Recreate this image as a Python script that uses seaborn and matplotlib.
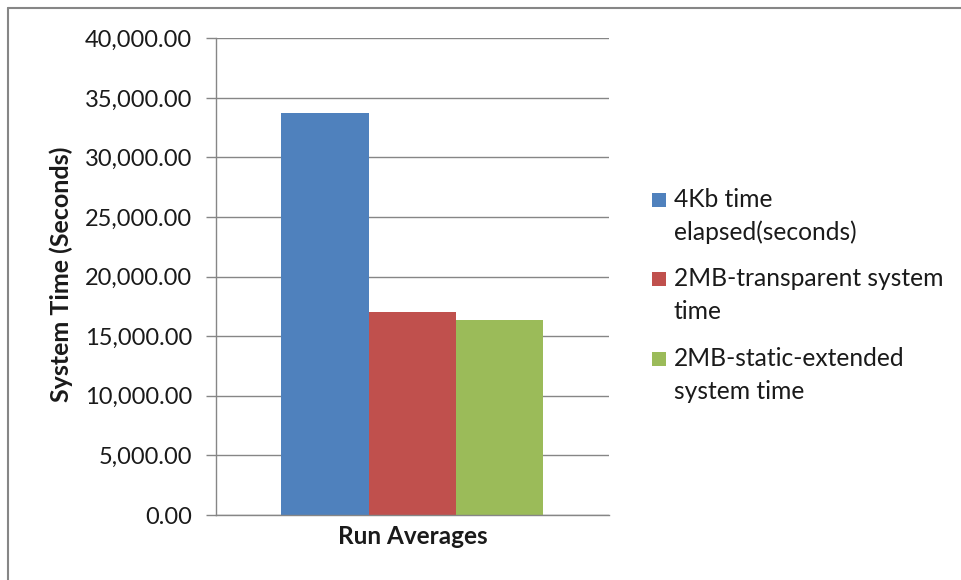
import matplotlib
matplotlib.use("Agg")
import matplotlib.pyplot as plt
from matplotlib.patches import Rectangle
from matplotlib.lines import Line2D
from matplotlib.ticker import FuncFormatter
import seaborn as sns
import pandas as pd

# Chart data
categories = ["Run Averages"]
series_names = [
    "4Kb time\nelapsed(seconds)",
    "2MB-transparent system\ntime",
    "2MB-static-extended\nsystem time",
]
series_values = [33700, 17000, 16350]
series_colors = ["#4F81BD", "#C0504D", "#9BBB59"]
y_ticks = [0, 5000, 10000, 15000, 20000, 25000, 30000, 35000, 40000]
y_label = "System Time (Seconds)"

W, H = 961, 580
GRID = "#868686"
TEXT = "#1a1a1a"

sns.set_theme(style="white")
plt.rcParams["font.family"] = ["Lato", "DejaVu Sans"]

fig = plt.figure(figsize=(W / 100, H / 100), dpi=100)
fig.patch.set_facecolor("white")


def fx(px):
    return px / W


def fy(py):
    return 1 - py / H


ax = fig.add_axes([fx(215.7), fy(515), fx(609) - fx(215.7), fy(38.3) - fy(515)])

df = pd.DataFrame({
    "category": categories * len(series_names),
    "series": series_names,
    "value": series_values,
})
sns.barplot(
    data=df, x="category", y="value", hue="series",
    hue_order=series_names, palette=series_colors, saturation=1,
    width=2 / 3, legend=False, ax=ax, linewidth=0, edgecolor="none",
)

ax.set_xlim(-0.5, 0.5)
ax.set_ylim(0, 40000)
ax.set_yticks(y_ticks)
ax.yaxis.set_major_formatter(FuncFormatter(lambda v, _: f"{v:,.2f}"))
ax.set_xlabel("")
ax.set_ylabel("")
ax.set_axisbelow(True)
ax.yaxis.grid(True, color=GRID, linewidth=1.0)
ax.xaxis.grid(False)

for side in ("top", "right"):
    ax.spines[side].set_visible(False)
for side in ("left", "bottom"):
    ax.spines[side].set_color(GRID)
    ax.spines[side].set_linewidth(1.0)

ax.tick_params(axis="y", left=True, direction="out", length=7, width=1.0,
               color=GRID, pad=10, labelsize=17, labelcolor=TEXT)
ax.tick_params(axis="x", bottom=False, length=0, pad=7, labelsize=17.5,
               labelcolor=TEXT)
for lbl in ax.get_xticklabels():
    lbl.set_fontweight("bold")

# Y axis title
fig.text(fx(61), fy(274), y_label, rotation=90, ha="center", va="center",
         fontsize=18, fontweight="bold", color=TEXT)

# Legend: square key beside the first line of each wrapped label
entry_tops = [192.7, 271.7, 351.7]
line_step = 33
for name, color, top in zip(series_names, series_colors, entry_tops):
    fig.patches.append(Rectangle((fx(652), fy(top + 14)), fx(14), fy(top) - fy(top + 14),
                                 transform=fig.transFigure, facecolor=color,
                                 edgecolor="none"))
    for i, line in enumerate(name.split("\n")):
        fig.text(fx(674), fy(top + 14 + i * line_step), line, ha="left",
                 va="baseline", fontsize=17.7, color=TEXT)

# Chart frame (left and top edges)
fig.add_artist(Line2D([fx(8), fx(8)], [fy(8), 0], transform=fig.transFigure,
                      color=GRID, linewidth=1.5))
fig.add_artist(Line2D([fx(8), 1], [fy(8), fy(8)], transform=fig.transFigure,
                      color=GRID, linewidth=1.5))

fig.savefig("out.png", dpi=100)
